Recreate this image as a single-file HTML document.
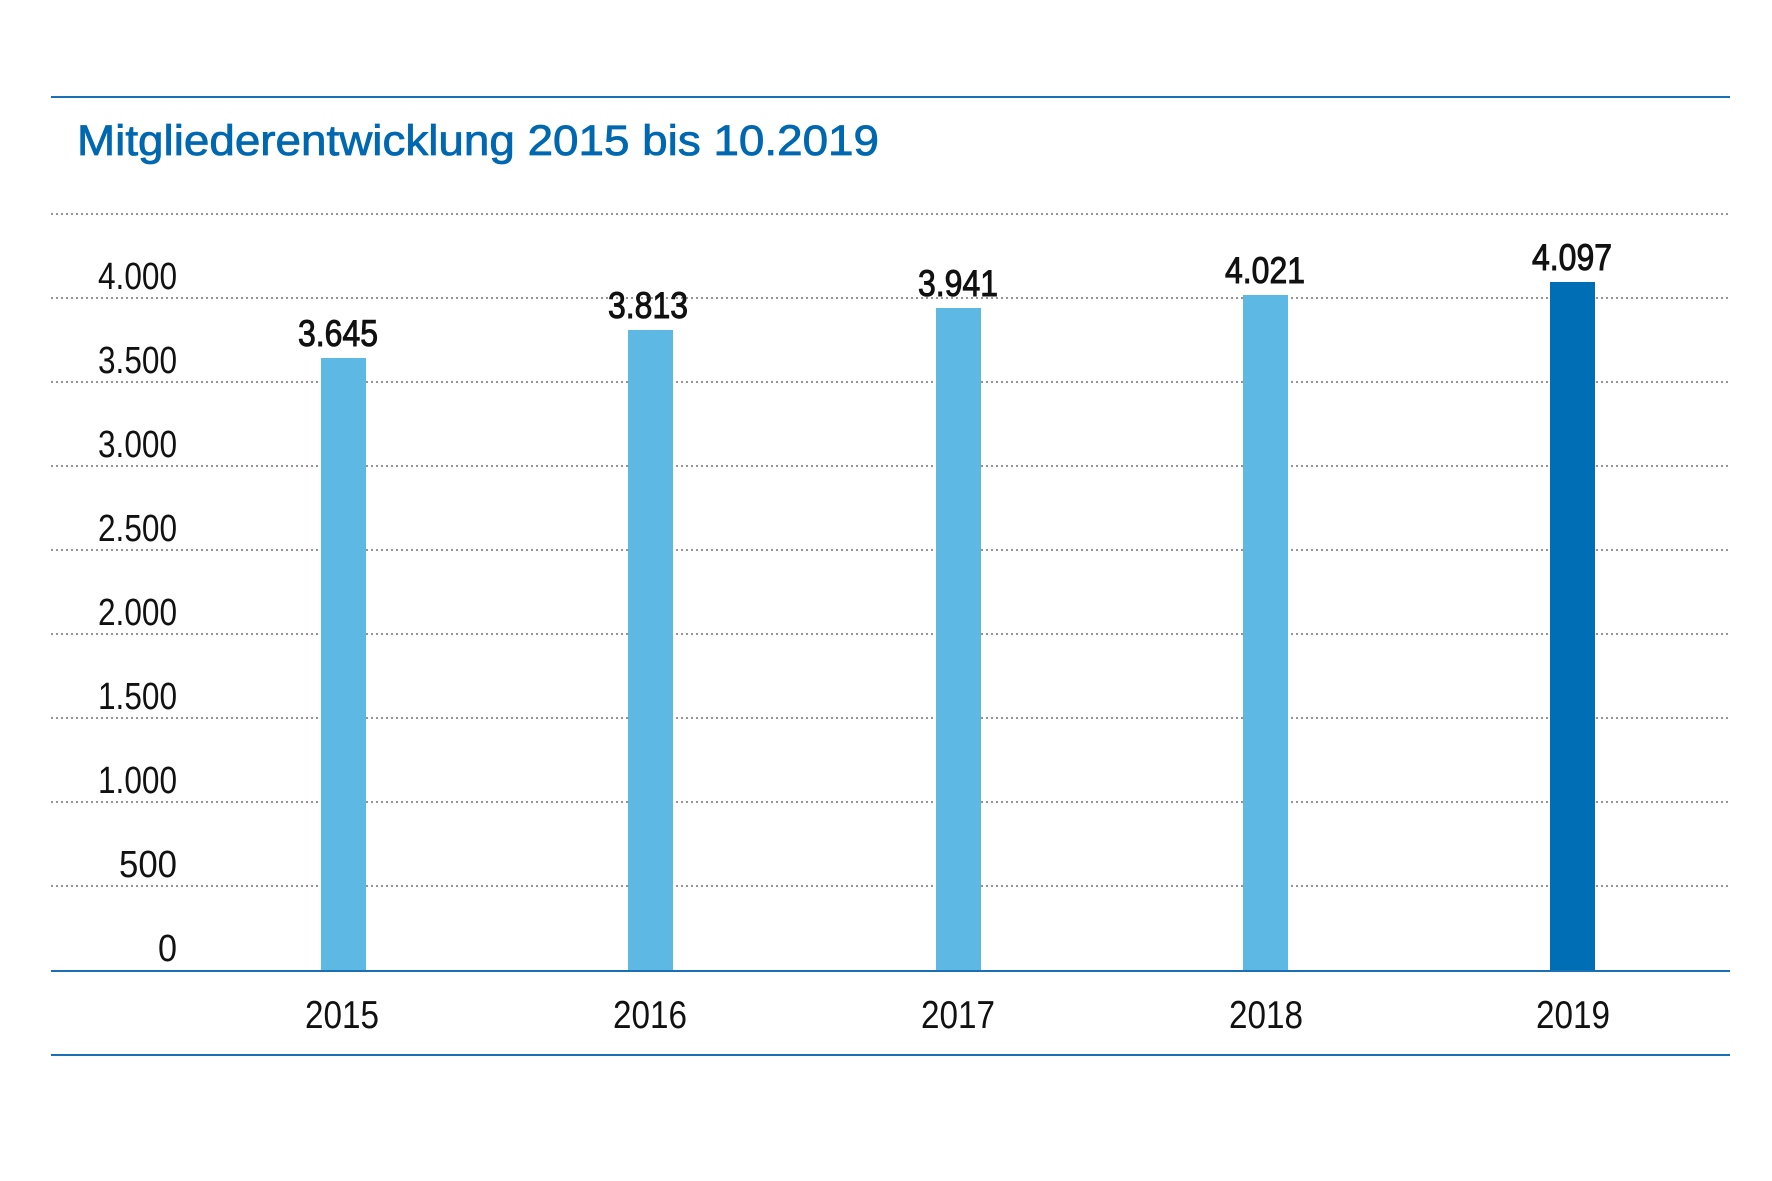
<!DOCTYPE html>
<html><head><meta charset="utf-8"><style>html,body{margin:0;padding:0;background:#fff}svg{display:block}</style></head>
<body>
<svg width="1772" height="1181" viewBox="0 0 1772 1181" xmlns="http://www.w3.org/2000/svg" font-family="Liberation Sans, sans-serif">
<line x1="51" y1="97" x2="1730" y2="97" stroke="#1a6fb5" stroke-width="2"/>
<text x="77" y="155" font-size="43" fill="#0068b0" stroke="#0068b0" stroke-width="0.8" textLength="802" lengthAdjust="spacingAndGlyphs">Mitgliederentwicklung 2015 bis 10.2019</text>
<g stroke="#555" stroke-width="1.3" stroke-dasharray="2,3">
<line x1="51" y1="214" x2="1730" y2="214"/>
<line x1="51" y1="298" x2="1730" y2="298"/>
<line x1="51" y1="382" x2="1730" y2="382"/>
<line x1="51" y1="466" x2="1730" y2="466"/>
<line x1="51" y1="550" x2="1730" y2="550"/>
<line x1="51" y1="634" x2="1730" y2="634"/>
<line x1="51" y1="718" x2="1730" y2="718"/>
<line x1="51" y1="802" x2="1730" y2="802"/>
<line x1="51" y1="886" x2="1730" y2="886"/>
</g>
<g font-size="38" fill="#111" text-anchor="end">
<text x="177" y="289" textLength="79" lengthAdjust="spacingAndGlyphs">4.000</text>
<text x="177" y="373" textLength="79" lengthAdjust="spacingAndGlyphs">3.500</text>
<text x="177" y="457" textLength="79" lengthAdjust="spacingAndGlyphs">3.000</text>
<text x="177" y="541" textLength="79" lengthAdjust="spacingAndGlyphs">2.500</text>
<text x="177" y="625" textLength="79" lengthAdjust="spacingAndGlyphs">2.000</text>
<text x="177" y="709" textLength="79" lengthAdjust="spacingAndGlyphs">1.500</text>
<text x="177" y="793" textLength="79" lengthAdjust="spacingAndGlyphs">1.000</text>
<text x="177" y="877" textLength="58" lengthAdjust="spacingAndGlyphs">500</text>
<text x="177" y="961" textLength="19" lengthAdjust="spacingAndGlyphs">0</text>
</g>
<g fill="#5db8e4">
<rect x="321" y="358" width="45" height="612"/>
<rect x="628" y="330" width="45" height="640"/>
<rect x="936" y="308" width="45" height="662"/>
<rect x="1243" y="295" width="45" height="675"/>
</g>
<rect x="1550" y="282" width="45" height="688" fill="#006eb5"/>
<g font-size="37" fill="#111" stroke="#111" stroke-width="1" text-anchor="middle">
<text x="338" y="346" textLength="80" lengthAdjust="spacingAndGlyphs">3.645</text>
<text x="648" y="318" textLength="80" lengthAdjust="spacingAndGlyphs">3.813</text>
<text x="958" y="296" textLength="80" lengthAdjust="spacingAndGlyphs">3.941</text>
<text x="1265" y="283" textLength="80" lengthAdjust="spacingAndGlyphs">4.021</text>
<text x="1572" y="270" textLength="80" lengthAdjust="spacingAndGlyphs">4.097</text>
</g>
<line x1="51" y1="971" x2="1730" y2="971" stroke="#1a6fb5" stroke-width="2"/>
<g font-size="39" fill="#111" text-anchor="middle">
<text x="342" y="1028" textLength="74" lengthAdjust="spacingAndGlyphs">2015</text>
<text x="650" y="1028" textLength="74" lengthAdjust="spacingAndGlyphs">2016</text>
<text x="958" y="1028" textLength="74" lengthAdjust="spacingAndGlyphs">2017</text>
<text x="1266" y="1028" textLength="74" lengthAdjust="spacingAndGlyphs">2018</text>
<text x="1573" y="1028" textLength="74" lengthAdjust="spacingAndGlyphs">2019</text>
</g>
<line x1="51" y1="1055" x2="1730" y2="1055" stroke="#1a6fb5" stroke-width="2"/>
</svg>
</body></html>
